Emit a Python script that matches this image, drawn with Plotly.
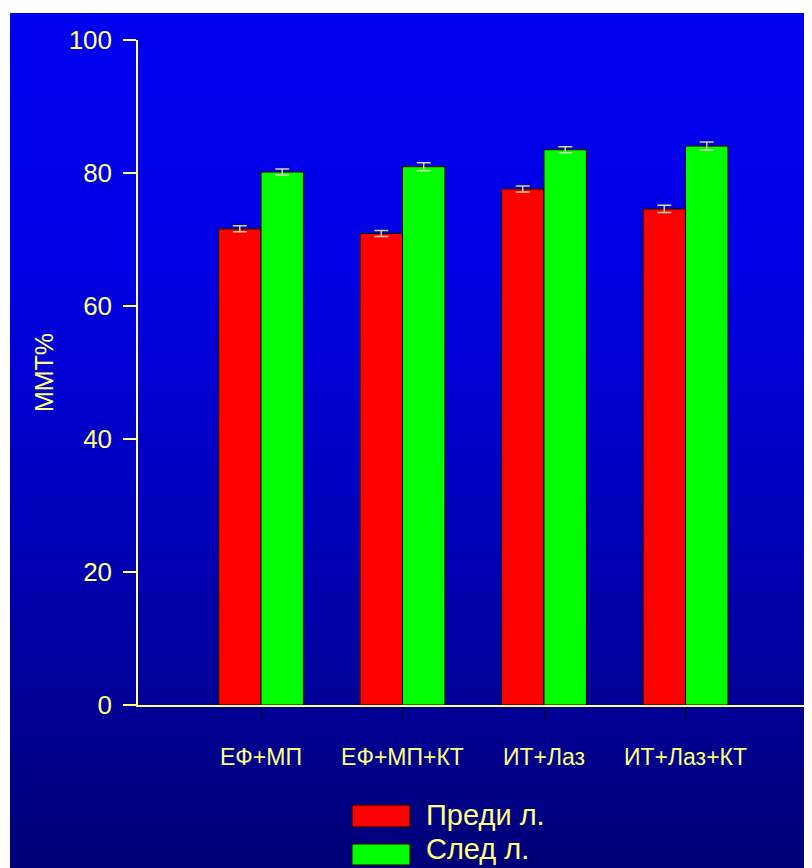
import base64, struct, zlib
import plotly.graph_objects as go

# ---- data ----
categories = ["ЕФ+МП", "ЕФ+МП+КТ", "ИТ+Лаз", "ИТ+Лаз+КТ"]
series_names = ["Преди л.", "След л."]
before_vals = [71.6, 70.9, 77.6, 74.6]
before_err = [0.45, 0.45, 0.45, 0.55]
after_vals = [80.15, 80.95, 83.5, 84.05]
after_err = [0.45, 0.6, 0.45, 0.6]
y_ticks = [0, 20, 40, 60, 80, 100]

OFF = 8  # page body margin
W, H = 812 - OFF, 868 - OFF
PL, PR, PT, PB = 138 - OFF, 806 - OFF, 40 - OFF, 705 - OFF  # plot area pixels
YELLOW = "#FFFF80"
FONT = "Liberation Sans, Arial, sans-serif"


def px(x):
    return (x - OFF - PL) / (PR - PL)


def py(y):
    return (PB - (y - OFF)) / (PB - PT)


# ---- gradient background png ----
def gradient_png(stops, n=256):
    rows = b""
    for i in range(n):
        t = i / (n - 1)
        for j in range(len(stops) - 1):
            t0, c0 = stops[j]
            t1, c1 = stops[j + 1]
            if t0 <= t <= t1:
                f = (t - t0) / (t1 - t0) if t1 > t0 else 0
                c = [round(a + (b - a) * f) for a, b in zip(c0, c1)]
                break
        rows += b"\x00" + bytes(c)

    def chunk(tag, data):
        return struct.pack(">I", len(data)) + tag + data + struct.pack(">I", zlib.crc32(tag + data) & 0xFFFFFFFF)

    png = b"\x89PNG\r\n\x1a\n"
    png += chunk(b"IHDR", struct.pack(">IIBBBBB", 1, n, 8, 2, 0, 0, 0))
    png += chunk(b"IDAT", zlib.compress(rows))
    png += chunk(b"IEND", b"")
    return "data:image/png;base64," + base64.b64encode(png).decode()


grad = gradient_png([
    (0.0, (0, 0, 240)),
    (0.3, (0, 0, 228)),
    (0.6, (0, 0, 185)),
    (0.8, (0, 0, 152)),
    (1.0, (0, 0, 120)),
])

fig = go.Figure()
fig.add_trace(go.Bar(
    x=categories, y=before_vals, name=series_names[0],
    marker=dict(color="#FF0000", line=dict(color="black", width=1)),
    error_y=dict(type="data", array=before_err, visible=True, color="#D8D8A8", thickness=1.5, width=7),
))
fig.add_trace(go.Bar(
    x=categories, y=after_vals, name=series_names[1],
    marker=dict(color="#00FF00", line=dict(color="black", width=1)),
    error_y=dict(type="data", array=after_err, visible=True, color="#D8D8A8", thickness=1.5, width=7),
))

# manual legend (screen pixel positions)
shapes = []
annotations = []
legend_rows = [("#FF0000", 805, 827, 815), ("#00FF00", 844, 865, 849)]
for (col, y0, y1, yc), name in zip(legend_rows, series_names):
    shapes.append(dict(type="rect", xref="paper", yref="paper",
                       x0=px(352), x1=px(410), y0=py(y1), y1=py(y0),
                       fillcolor=col, line=dict(color="black", width=1), layer="above"))
    annotations.append(dict(text=name, xref="paper", yref="paper", x=px(425), y=py(yc),
                            xanchor="left", yanchor="middle", showarrow=False, borderpad=0,
                            font=dict(family=FONT, size=29, color=YELLOW)))

fig.update_layout(
    width=W, height=H,
    margin=dict(l=PL, r=W - PR, t=PT, b=H - PB, autoexpand=False),
    paper_bgcolor="white",
    plot_bgcolor="rgba(0,0,0,0)",
    barmode="group", bargap=0.4, bargroupgap=0,
    showlegend=False,
    font=dict(family=FONT, color=YELLOW),
    images=[dict(source=grad, xref="paper", yref="paper",
                 x=px(10), y=py(13), sizex=px(812) - px(10), sizey=py(13) - py(868),
                 xanchor="left", yanchor="top", sizing="stretch", layer="below")],
    shapes=shapes,
    annotations=annotations,
    xaxis=dict(
        range=[(PL + OFF - 261) / 141.5, (PR + OFF - 261) / 141.5],
        showline=True, linecolor=YELLOW, linewidth=1.5,
        ticks="outside", ticklen=12, tickcolor="black", tickwidth=1,
        tickfont=dict(family=FONT, size=23, color=YELLOW),
        ticklabelstandoff=19,
        showgrid=False, zeroline=False, automargin=False,
    ),
    yaxis=dict(
        range=[0, 100], tickvals=y_ticks,
        showline=True, linecolor=YELLOW, linewidth=1.5,
        ticks="outside", ticklen=13, tickcolor=YELLOW, tickwidth=1.5,
        tickfont=dict(family=FONT, size=26, color=YELLOW),
        ticklabelstandoff=6,
        showgrid=False, zeroline=False, automargin=False,
        title=dict(text="ММТ%", font=dict(family=FONT, size=25, color=YELLOW), standoff=8),
    ),
)

fig.write_html("out.html")
